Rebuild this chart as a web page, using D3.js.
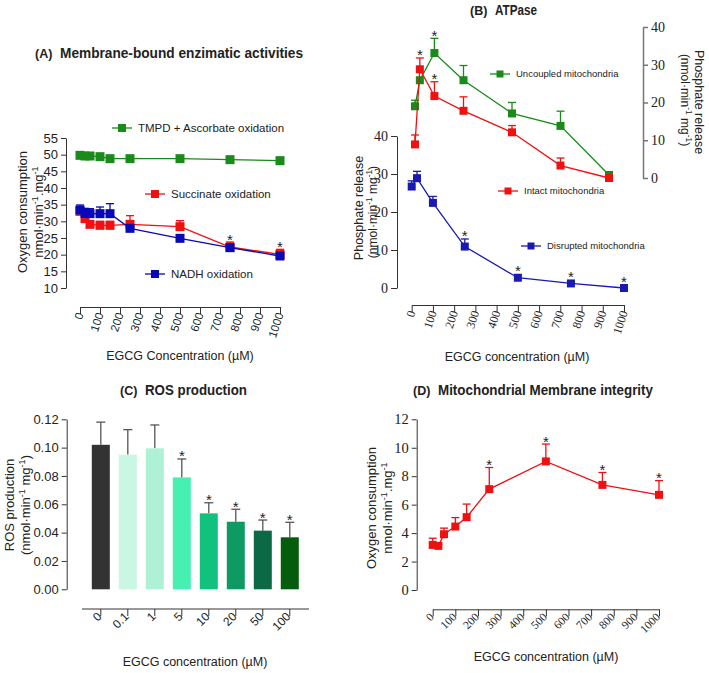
<!DOCTYPE html>
<html>
<head>
<meta charset="utf-8">
<script src="https://cdn.jsdelivr.net/npm/d3@7"></script>
<style>
    body { margin: 0; background: #fff; }
    text { font-family: "Liberation Sans", Arial, sans-serif; fill: #222; }
    text.serif { font-family: "Liberation Serif", "DejaVu Serif", serif; }
    .axis path, .axis line { stroke: #333; }
</style>
</head>
<body>
<script>
// ---- data ----
var concA = [0, 25, 50, 100, 150, 250, 500, 750, 1000];
var tmpd = [49.8, 49.6, 49.6, 49.4, 48.8, 48.8, 48.8, 48.5, 48.2];
var tmpdErr = [0.3, 0.3, 0.3, 0.3, 0.3, 0.3, 0.3, 0.3, 0.3];
var succinate = [33.0, 30.8, 29.1, 28.8, 28.8, 29.1, 28.4, 22.3, 20.1];
var succinateErr = [1.0, 1.0, 1.0, 1.2, 1.2, 2.6, 1.8, 1.5, 1.5];
var nadh = [33.4, 32.4, 32.3, 32.3, 32.3, 27.9, 24.9, 22.1, 19.6];
var nadhErr = [1.5, 1.5, 1.5, 2.0, 3.0, 0.8, 0.6, 0.6, 0.6];
var starsA = [750, 1000];
var ticksA = [0, 100, 200, 300, 400, 500, 600, 700, 800, 900, 1000];

var concB = [0, 25, 100, 250, 500, 750, 1000];
var disrupted = [26.7, 28.9, 22.4, 10.9, 2.7, 1.2, 0];
var disruptedErr = [1.5, 1.8, 1.7, 2.0, 0.5, 0.5, 0.3];
var disruptedStars = [250, 500, 750, 1000];
var intact = [8.9, 28.8, 21.7, 17.8, 12.1, 3.3, 0];
var intactErr = [2.5, 3.0, 3.8, 3.7, 1.8, 2.0, 0];
var intactStars = [25, 100];
var uncoupled = [19.0, 25.9, 33.1, 25.9, 17.1, 13.8, 0.8];
var uncoupledErr = [1.6, 0, 3.9, 3.9, 2.9, 3.9, 0];
var uncoupledStars = [100];

var rosConc = ['0', '0.1', '1', '5', '10', '20', '50', '100'];
var ros = [0.102, 0.095, 0.0995, 0.079, 0.0536, 0.0477, 0.0414, 0.0367];
var rosErr = [0.016, 0.0177, 0.0165, 0.013, 0.0075, 0.0088, 0.0075, 0.0106];
var rosStars = ['5', '10', '20', '50', '100'];
var rosColors = ['#333333', '#c9f7e4', '#aef1d7', '#45f0b0', '#10c27e', '#0f9a64', '#0b6a45', '#045c0c'];

var concD = [0, 25, 50, 100, 150, 250, 500, 750, 1000];
var membrane = [3.17, 3.1, 3.92, 4.46, 5.12, 7.09, 9.04, 7.39, 6.69];
var membraneErr = [0.47, 0.1, 0.43, 0.63, 0.92, 1.52, 1.22, 0.87, 1.0];
var starsD = [250, 500, 750, 1000];

var svg = d3.select('body').append('svg')
    .attr('width', 709)
    .attr('height', 673);

// ---- helpers ----
function star(sel, x, y) {
    sel.append('text')
        .attr('x', x)
        .attr('y', y)
        .attr('text-anchor', 'middle')
        .style('font-size', '15px')
        .text('*');
}

function series(g, xs, ys, errs, x, y, color, size, stars) {
    var pts = xs.map(function(d, i) { return {x: d, y: ys[i], e: errs[i]}; });
    g.append('path')
        .datum(pts)
        .attr('fill', 'none')
        .attr('stroke', color)
        .attr('stroke-width', 1.3)
        .attr('d', d3.line().x(function(d) { return x(d.x); }).y(function(d) { return y(d.y); }));
    var eb = g.append('g').selectAll('g')
        .data(pts.filter(function(d) { return d.e > 0; }))
        .enter().append('g')
        .attr('stroke', color)
        .attr('stroke-width', 1.3);
    eb.append('line')
        .attr('x1', function(d) { return x(d.x); })
        .attr('x2', function(d) { return x(d.x); })
        .attr('y1', function(d) { return y(d.y); })
        .attr('y2', function(d) { return y(d.y + d.e); });
    eb.append('line')
        .attr('x1', function(d) { return x(d.x) - 4; })
        .attr('x2', function(d) { return x(d.x) + 4; })
        .attr('y1', function(d) { return y(d.y + d.e); })
        .attr('y2', function(d) { return y(d.y + d.e); });
    g.append('g').selectAll('rect')
        .data(pts)
        .enter().append('rect')
        .attr('x', function(d) { return x(d.x) - size / 2; })
        .attr('y', function(d) { return y(d.y) - size / 2; })
        .attr('width', size)
        .attr('height', size)
        .attr('fill', color);
    if (stars) {
        var sg = g.append('g');
        pts.filter(function(d) { return stars.indexOf(d.x) >= 0; }).forEach(function(d) {
            star(sg, x(d.x), Math.min(y(d.y + d.e), y(d.y) - size / 2) + 2.5);
        });
    }
}

function legendItem(g, x, y, color, label, size, fs) {
    g.append('line')
        .attr('x1', x - 10).attr('x2', x + 10)
        .attr('y1', y).attr('y2', y)
        .attr('stroke', color).attr('stroke-width', 1.3);
    g.append('rect')
        .attr('x', x - size / 2).attr('y', y - size / 2)
        .attr('width', size).attr('height', size)
        .attr('fill', color);
    g.append('text')
        .attr('x', x + 16).attr('y', y + fs * 0.36)
        .style('font-size', fs + 'px')
        .text(label);
}

// rotated label with superscripts: parts = [[text, sup?], ...]
function vlabel(g, x, y, angle, parts, fs) {
    var t = g.append('text')
        .attr('transform', 'translate(' + x + ',' + y + ') rotate(' + angle + ')')
        .attr('text-anchor', 'middle')
        .style('font-size', fs + 'px');
    parts.forEach(function(p) {
        t.append('tspan')
            .attr('baseline-shift', p[1] ? 'super' : null)
            .style('font-size', p[1] ? (fs * 0.7) + 'px' : null)
            .text(p[0]);
    });
    return t;
}

function title(g, x, y, tag, label, width) {
    g.append('text').attr('x', x).attr('y', y)
        .style('font-size', '12.5px').style('font-weight', 'bold')
        .text(tag);
    g.append('text').attr('x', x + 25).attr('y', y)
        .style('font-size', '15px').style('font-weight', 'bold')
        .attr('textLength', width)
        .attr('lengthAdjust', 'spacingAndGlyphs')
        .text(label);
}

function styleTicks(sel, serif, fs) {
    sel.selectAll('.tick text')
        .classed('serif', serif)
        .style('font-size', fs + 'px')
        .style('fill', '#222');
}

function rotTicks(sel, angle, serif, fs) {
    styleTicks(sel, serif, fs);
    sel.selectAll('.tick text')
        .attr('text-anchor', 'end')
        .attr('dy', '0.35em')
        .attr('transform', 'translate(0,4) rotate(' + angle + ')')
        .attr('y', 0)
        .attr('x', -2);
}

// ---- panel A ----
var gA = svg.append('g');
var xA = d3.scaleLinear().domain([0, 1000]).range([80, 280]);
var yA = d3.scaleLinear().domain([10, 55]).range([288, 138]);

var ayA = gA.append('g').attr('class', 'axis')
    .attr('transform', 'translate(66,0)')
    .call(d3.axisLeft(yA).tickValues(d3.range(10, 56, 5)).tickSize(5).tickSizeOuter(0));
styleTicks(ayA, false, 13);

var axA = gA.append('g').attr('class', 'axis')
    .attr('transform', 'translate(0,307)')
    .call(d3.axisBottom(xA).tickValues(ticksA).tickFormat(d3.format('d')).tickSize(7).tickSizeOuter(0));
rotTicks(axA, -72, false, 11.5);

series(gA, concA, tmpd, tmpdErr, xA, yA, '#1a8a1a', 9);
series(gA, concA, succinate, succinateErr, xA, yA, '#f01010', 9, starsA);
series(gA, concA, nadh, nadhErr, xA, yA, '#0808b8', 9);

legendItem(gA, 122, 128, '#1a8a1a', 'TMPD + Ascorbate oxidation', 8, 11.5);
legendItem(gA, 155, 194, '#f01010', 'Succinate oxidation', 8, 11.5);
legendItem(gA, 155, 274, '#0808b8', 'NADH oxidation', 8, 11.5);

title(gA, 35, 58, '(A)', 'Membrane-bound enzimatic activities', 243);
vlabel(gA, 27, 212, -90, [['Oxygen consumption']], 13);
vlabel(gA, 43, 212, -90, [['nmol\u00b7min'], ['-1', true], ['.mg'], ['-1', true]], 13);
gA.append('text').attr('x', 180).attr('y', 360).attr('text-anchor', 'middle')
    .style('font-size', '12.5px').text('EGCG Concentration (\u00b5M)');

// ---- panel B ----
var gB = svg.append('g');
var xB = d3.scaleLinear().domain([0, 1000]).range([411.7, 624]);
var yB = d3.scaleLinear().domain([0, 40]).range([288, 136]);
var xB2 = d3.scaleLinear().domain([0, 1000]).range([415, 609]);
var yB2 = d3.scaleLinear().domain([0, 40]).range([178, 27]);

var ayB = gB.append('g').attr('class', 'axis')
    .attr('transform', 'translate(397,0)')
    .call(d3.axisLeft(yB).tickValues([0, 10, 20, 30, 40]).tickSize(6).tickSizeOuter(0));
styleTicks(ayB, true, 14);

var axB2 = gB.append('g').attr('class', 'axis')
    .attr('transform', 'translate(643,0)')
    .call(d3.axisRight(yB2).tickValues([0, 10, 20, 30, 40]).tickSize(5).tickSizeOuter(0));
axB2.selectAll('path, line').style('stroke', '#777').style('stroke-width', 1.5);
styleTicks(axB2, true, 14);

var axB = gB.append('g').attr('class', 'axis')
    .attr('transform', 'translate(0,305)')
    .call(d3.axisBottom(xB).tickValues(ticksA).tickFormat(d3.format('d')).tickSize(7).tickSizeOuter(0));
rotTicks(axB, -72, true, 12);

series(gB, concB, uncoupled, uncoupledErr, xB2, yB2, '#1a8a1a', 8, uncoupledStars);
series(gB, concB, intact, intactErr, xB2, yB2, '#f01010', 8, intactStars);
series(gB, concB, disrupted, disruptedErr, xB, yB, '#1a1ab0', 8, disruptedStars);

legendItem(gB, 500, 74, '#1a8a1a', 'Uncoupled mitochondria', 7, 9.5);
legendItem(gB, 508, 191, '#f01010', 'Intact mitochondria', 7, 9.5);
legendItem(gB, 531, 246, '#1a1ab0', 'Disrupted mitochondria', 7, 9.5);

title(gB, 470, 15, '(B)', 'ATPase', 42);
vlabel(gB, 363, 208, -90, [['Phosphate release']], 12.5);
vlabel(gB, 377, 212, -90, [['(nmol\u00b7min'], ['-1', true], [' mg'], ['-1', true], [')']], 12);
vlabel(gB, 695, 102, 90, [['Phosphate release']], 12.5);
vlabel(gB, 681, 100, 90, [['(nmol\u00b7min'], ['-1', true], [' mg'], ['-1', true], [')']], 12);
gB.append('text').attr('x', 517).attr('y', 361).attr('text-anchor', 'middle')
    .style('font-size', '12.5px').text('EGCG concentration (\u00b5M)');

// ---- panel C ----
var gC = svg.append('g');
var xC = d3.scaleBand().domain(rosConc).range([87.3, 303.3]).paddingInner(0.333).paddingOuter(0.167);
var yC = d3.scaleLinear().domain([0, 0.12]).range([589.3, 419.3]);

var ayC = gC.append('g').attr('class', 'axis')
    .attr('transform', 'translate(66.7,0)')
    .call(d3.axisLeft(yC).tickValues(d3.range(0, 0.121, 0.02)).tickFormat(d3.format('.2f')).tickSize(5).tickSizeOuter(0));
styleTicks(ayC, false, 13);

var axC = gC.append('g').attr('class', 'axis')
    .attr('transform', 'translate(0,609)');
axC.call(d3.axisBottom(xC).tickSize(7).tickSizeOuter(0));
axC.select('.domain').attr('d', 'M82,0H309').style('stroke', '#777').style('stroke-width', 1.5);
rotTicks(axC, -45, false, 12);

var bars = gC.append('g').selectAll('g')
    .data(rosConc.map(function(c, i) { return {c: c, v: ros[i], e: rosErr[i], color: rosColors[i]}; }))
    .enter().append('g');
bars.append('line')
    .attr('x1', function(d) { return xC(d.c) + xC.bandwidth() / 2; })
    .attr('x2', function(d) { return xC(d.c) + xC.bandwidth() / 2; })
    .attr('y1', function(d) { return yC(d.v); })
    .attr('y2', function(d) { return yC(d.v + d.e); })
    .attr('stroke', '#555').attr('stroke-width', 1.3);
bars.append('line')
    .attr('x1', function(d) { return xC(d.c) + xC.bandwidth() / 2 - 4.5; })
    .attr('x2', function(d) { return xC(d.c) + xC.bandwidth() / 2 + 4.5; })
    .attr('y1', function(d) { return yC(d.v + d.e); })
    .attr('y2', function(d) { return yC(d.v + d.e); })
    .attr('stroke', '#555').attr('stroke-width', 1.3);
bars.append('rect')
    .attr('x', function(d) { return xC(d.c); })
    .attr('y', function(d) { return yC(d.v); })
    .attr('width', xC.bandwidth())
    .attr('height', function(d) { return yC(0) - yC(d.v); })
    .attr('fill', function(d) { return d.color; });
bars.filter(function(d) { return rosStars.indexOf(d.c) >= 0; })
    .each(function(d) {
        star(d3.select(this), xC(d.c) + xC.bandwidth() / 2, yC(d.v + d.e) + 2.5);
    });

title(gC, 120, 395, '(C)', 'ROS production', 102);
vlabel(gC, 14, 505, -90, [['ROS production']], 13);
vlabel(gC, 30, 505, -90, [['(nmol\u00b7min'], ['-1', true], [' mg'], ['-1', true], [')']], 13);
gC.append('text').attr('x', 195).attr('y', 666).attr('text-anchor', 'middle')
    .style('font-size', '12.5px').text('EGCG concentration (\u00b5M)');

// ---- panel D ----
var gD = svg.append('g');
var xD = d3.scaleLinear().domain([0, 1000]).range([432.7, 659]);
var yD = d3.scaleLinear().domain([0, 12]).range([590, 419.3]);

var ayD = gD.append('g').attr('class', 'axis')
    .attr('transform', 'translate(416.7,0)')
    .call(d3.axisLeft(yD).tickValues(d3.range(0, 13, 2)).tickSize(5).tickSizeOuter(0));
styleTicks(ayD, true, 14.5);

var axD = gD.append('g').attr('class', 'axis')
    .attr('transform', 'translate(0,609.3)')
    .call(d3.axisBottom(xD).tickValues(ticksA).tickFormat(d3.format('d')).tickSize(7).tickSizeOuter(0));
rotTicks(axD, -45, true, 11.5);

series(gD, concD, membrane, membraneErr, xD, yD, '#f01010', 8, starsD);

title(gD, 413, 395, '(D)', 'Mitochondrial Membrane integrity', 215);
vlabel(gD, 376, 508, -90, [['Oxygen consumption']], 13);
vlabel(gD, 392, 508, -90, [['nmol\u00b7min'], ['-1', true], ['.mg'], ['-1', true]], 13);
gD.append('text').attr('x', 546).attr('y', 661).attr('text-anchor', 'middle')
    .style('font-size', '12.5px').text('EGCG concentration (\u00b5M)');
</script>
</body>
</html>
